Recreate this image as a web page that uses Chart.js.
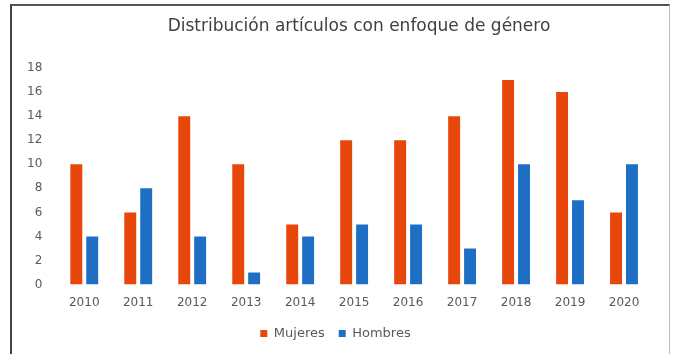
<!DOCTYPE html>
<html><head><meta charset="utf-8">
<script src="https://cdn.jsdelivr.net/npm/chart.js@4"></script>
<style>
html,body{margin:0;padding:0;background:#fff;}
#wrap{position:relative;width:673px;height:354px;}
#frame{position:absolute;left:10px;top:4px;width:657px;height:360px;border-left:2px solid #444;border-top:2px solid #555;border-right:1px solid #bbb;pointer-events:none;}
canvas{position:absolute;left:0;top:0;}
</style></head>
<body>
<div id="wrap"><canvas id="c" width="673" height="354"></canvas><div id="frame"></div></div>
<script>
const categories = ['2010','2011','2012','2013','2014','2015','2016','2017','2018','2019','2020'];
const mujeres = [10,6,14,10,5,12,12,14,17,16,6];
const hombres = [4,8,4,1,4,5,5,3,10,7,10];
const yTicks = [0,2,4,6,8,10,12,14,16,18];
const titleText = 'Distribución artículos con enfoque de género';
const FONT = 'DejaVu Sans';

const titlePlugin = {
  id:'customTitle',
  afterDraw(chart){
    const ctx = chart.ctx;
    ctx.save();
    ctx.font = '17px "' + FONT + '"';
    ctx.fillStyle = '#404040';
    ctx.textAlign = 'center';
    ctx.textBaseline = 'middle';
    ctx.fillText(titleText, 359, 27);
    ctx.restore();
  }
};

new Chart(document.getElementById('c'), {
  type: 'bar',
  data: {
    labels: categories,
    datasets: [
      {label:'Mujeres', data: mujeres, backgroundColor:'#E8470C', categoryPercentage:0.59, barPercentage:0.75},
      {label:'Hombres', data: hombres, backgroundColor:'#1E6FC4', categoryPercentage:0.59, barPercentage:0.75}
    ]
  },
  plugins:[titlePlugin],
  options: {
    responsive:false, animation:false,
    layout:{padding:{left:20,right:22,top:68,bottom:4}},
    plugins:{
      title:{display:false},
      legend:{position:'bottom',labels:{boxWidth:7,boxHeight:7,color:'#595959',font:{family:FONT,size:13},padding:14}},
      tooltip:{enabled:false}
    },
    scales:{
      x:{grid:{display:false},border:{display:false},ticks:{color:'#595959',font:{family:FONT,size:12},padding:3}},
      y:{min:0,max:18,afterBuildTicks:(ax)=>{ax.ticks=yTicks.map(v=>({value:v}));},grid:{display:false},border:{display:false},ticks:{color:'#595959',font:{family:FONT,size:12},padding:7}}
    }
  }
});
</script>
</body></html>
